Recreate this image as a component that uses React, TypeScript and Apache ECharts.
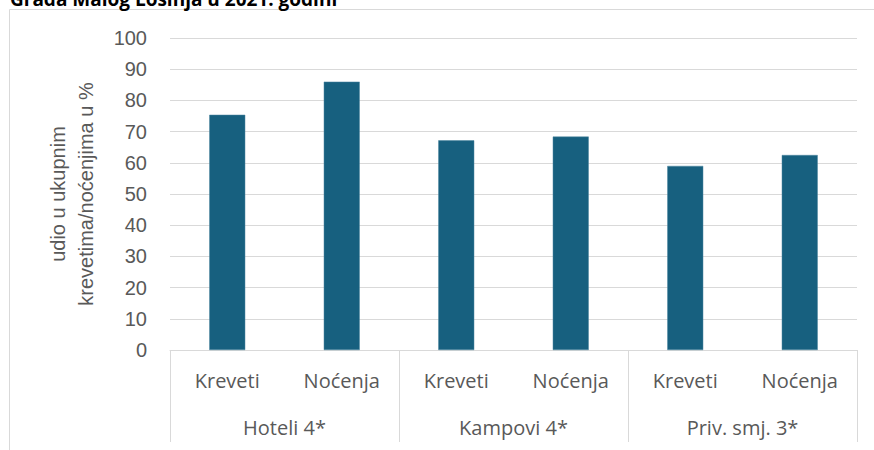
import React, { useEffect, useRef } from "react";
import * as echarts from "echarts";

const subCategories = ["Kreveti", "Noćenja", "Kreveti", "Noćenja", "Kreveti", "Noćenja"];
const groups = ["Hoteli 4*", "Kampovi 4*", "Priv. smj. 3*"];
const values = [75.4, 86.0, 67.2, 68.4, 59.0, 62.5];
const yTicks = { min: 0, max: 100, interval: 10 };
const yName = "udio u ukupnim\nkrevetima/noćenjima u %";
const titleText = "Grada Malog Lošinja u 2021. godini";

export default function App() {
  const ref = useRef<HTMLDivElement>(null);
  useEffect(() => {
    if (!ref.current) return;
    const chart = echarts.init(ref.current, null, { renderer: "svg" });
    chart.setOption({
      animation: false,
      backgroundColor: "#ffffff",
      graphic: [
        {
          type: "rect",
          shape: { x: 9.5, y: 9.5, width: 900, height: 500 },
          style: { fill: "none", stroke: "#d9d9d9", lineWidth: 1 },
          silent: true,
          z: -10,
        },
        {
          type: "text",
          x: 10,
          y: 8,
          style: {
            text: titleText,
            font: "bold 19px 'Open Sans'",
            fill: "#000000",
            verticalAlign: "bottom",
          },
        },
      ],
      grid: { left: 170, right: 17, top: 38, bottom: 100, containLabel: false },
      xAxis: [
        {
          type: "category",
          data: subCategories,
          position: "bottom",
          axisLine: { show: true, lineStyle: { color: "#d9d9d9", width: 1 } },
          axisTick: { show: false },
          axisLabel: {
            interval: 0,
            margin: 20,
            color: "#595959",
            fontFamily: "Open Sans",
            fontSize: 20,
          },
        },
        {
          type: "category",
          data: groups,
          position: "bottom",
          axisLine: { show: false },
          axisTick: {
            show: true,
            alignWithLabel: false,
            interval: 0,
            length: 92,
            lineStyle: { color: "#d9d9d9", width: 1 },
          },
          axisLabel: {
            interval: 0,
            margin: 67,
            color: "#595959",
            fontFamily: "Open Sans",
            fontSize: 20,
          },
        },
      ],
      yAxis: {
        type: "value",
        min: yTicks.min,
        max: yTicks.max,
        interval: yTicks.interval,
        name: yName,
        nameLocation: "middle",
        nameGap: 70,
        nameTextStyle: {
          color: "#595959",
          fontFamily: "Liberation Sans",
          fontSize: 20,
          lineHeight: 28,
        },
        axisLine: { show: false },
        axisTick: { show: false },
        splitLine: { lineStyle: { color: "#d9d9d9", width: 1 } },
        axisLabel: {
          margin: 23,
          color: "#595959",
          fontFamily: "Liberation Sans",
          fontSize: 20,
        },
      },
      series: [
        {
          type: "bar",
          xAxisIndex: 0,
          data: values,
          barWidth: 36,
          itemStyle: { color: "#17607f", borderColor: "#4f86a0", borderWidth: 0.5 },
        },
      ],
    });
    return () => chart.dispose();
  }, []);
  return (
    <div
      ref={ref}
      style={{ position: "fixed", left: 0, top: 0, width: 874, height: 450 }}
    />
  );
}
